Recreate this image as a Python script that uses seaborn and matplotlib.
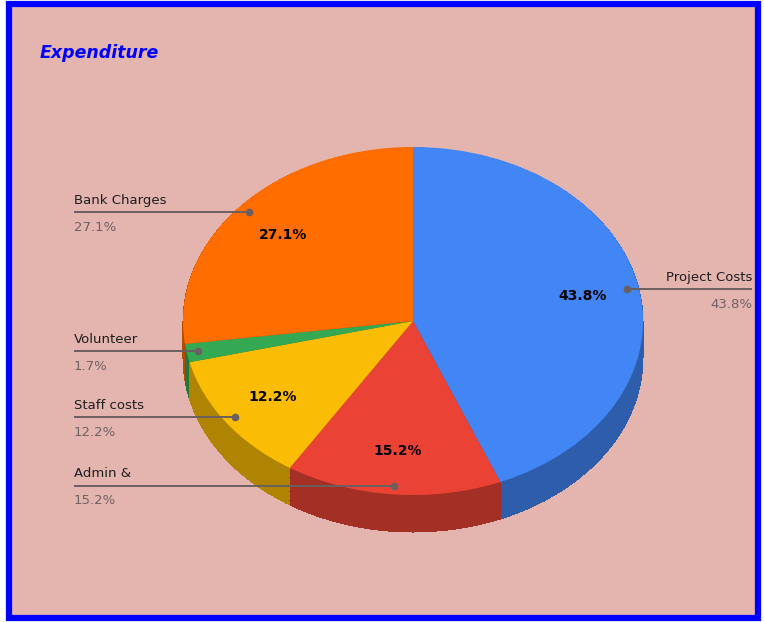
import numpy as np
import matplotlib
matplotlib.use('Agg')
import matplotlib.pyplot as plt
import matplotlib.patches as mpatches
import seaborn as sns

sns.set_style("white")
plt.rcParams['font.family'] = ['DejaVu Sans']

# ====================== DATA ======================
labels = ['Project Costs', 'Admin &', 'Staff costs', 'Volunteer', 'Bank Charges']
values = [43.8, 15.2, 12.2, 1.7, 27.1]
colors = ['#4285F4', '#EA4335', '#FBBC04', '#34A853', '#FF6D01']
title = 'Expenditure'

# ====================== LAYOUT (pixels) ======================
W, H = 764, 622
CX, CY = 413, 321        # pie centre
RX, RY = 230, 174        # ellipse radii
DEPTH = 37 / RY          # 3d side depth in data units

def px(x):
    return (x - CX) / RX

def py(y):
    return (CY - y) / RY

fig = plt.figure(figsize=(W / 100, H / 100), dpi=100)
fig.patch.set_facecolor('white')
bg = mpatches.Rectangle((9 / W, 4 / H), 749 / W, 614 / H, transform=fig.transFigure,
                        facecolor='#E4B4AF', edgecolor='#0000FF', linewidth=4.5, zorder=-10)
fig.patches.append(bg)

ax = fig.add_axes([0, 0, 1, 1])
ax.set_zorder(1)
ax.patch.set_alpha(0)

dark = [tuple(c * 0.7 for c in matplotlib.colors.to_rgb(col)) for col in colors]

# side walls: stack darker pies downwards
for d in np.linspace(DEPTH, 0.005, 45):
    ax.pie(values, colors=dark, startangle=90, counterclock=False, center=(0, -d),
           radius=1, wedgeprops=dict(linewidth=0, antialiased=False))

def inner_pct(p):
    return f'{p:.1f}%' if p > 5 else ''

wedges, _, autotexts = ax.pie(values, colors=colors, startangle=90, counterclock=False,
                              radius=1, autopct=inner_pct, pctdistance=0.75,
                              wedgeprops=dict(linewidth=0),
                              textprops=dict(fontsize=10, fontweight='bold', color='black'))

ax.set_aspect('auto')
ax.set_xlim(px(0), px(W))
ax.set_ylim(py(H), py(0))
ax.axis('off')

# ====================== CALLOUT LABELS ======================
total = sum(values)
cum = np.cumsum([0] + values[:-1])
line_col = '#6B5F5F'
for lab, v, c0 in zip(labels, values, cum):
    mid = np.deg2rad((c0 + v / 2) / total * 360)
    ax_x, ax_y = 0.95 * np.sin(mid), 0.95 * np.cos(mid)
    pct = f'{v / total * 100:.1f}%'
    if ax_x > 0:
        x_end = px(752)
        ha = 'right'
    else:
        x_end = px(74)
        ha = 'left'
    ax.plot([ax_x, x_end], [ax_y, ax_y], color=line_col, lw=1.4, solid_capstyle='butt', zorder=5)
    ax.plot(ax_x, ax_y, 'o', color=line_col, ms=4.5, zorder=6)
    ax.text(x_end, ax_y + 12 / RY, lab, ha=ha, va='center', fontsize=9.5, color='#1E1E1E', zorder=6)
    ax.text(x_end, ax_y - 15 / RY, pct, ha=ha, va='center', fontsize=9.5, color='#6E6262', zorder=6)

fig.text(40 / W, 1 - 53 / H, title, ha='left', va='center', fontsize=12.5,
         fontweight='bold', fontstyle='italic', color='#0000FF')

plt.savefig('out.png', dpi=100)
